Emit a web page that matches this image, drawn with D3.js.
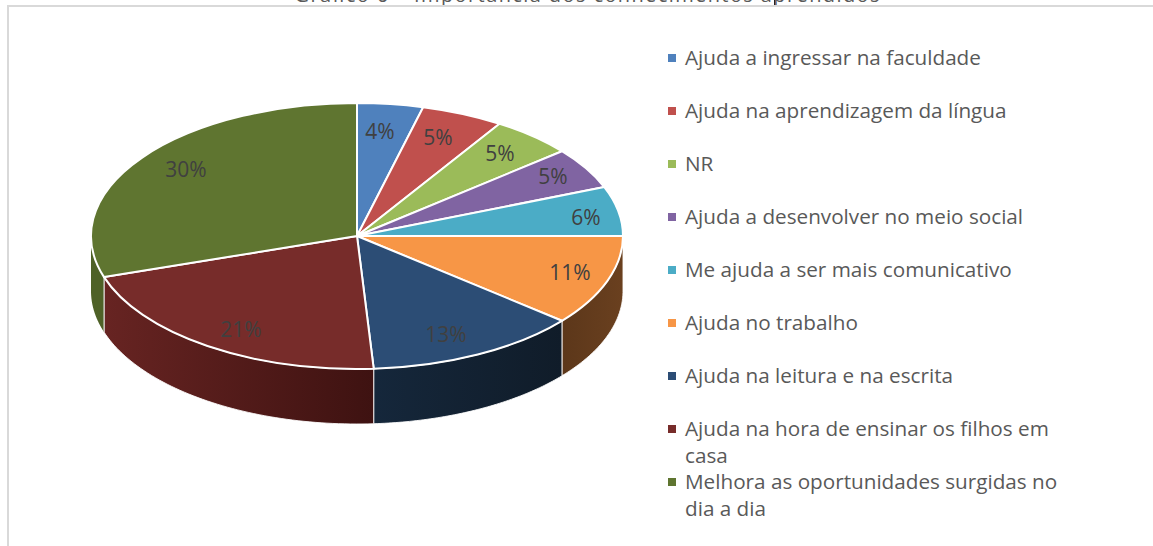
<!DOCTYPE html>
<html><head><meta charset="utf-8">
<script src="https://cdn.jsdelivr.net/npm/d3@7/dist/d3.min.js"></script>
<style>html,body{margin:0;padding:0;background:#fff;overflow:hidden}svg{display:block}</style>
</head><body><svg id="c" width="1153" height="546"></svg>
<script>
const categories = ["Ajuda a ingressar na faculdade","Ajuda na aprendizagem da língua","NR","Ajuda a desenvolver no meio social","Me ajuda a ser mais comunicativo","Ajuda no trabalho","Ajuda na leitura e na escrita","Ajuda na hora de ensinar os filhos em casa","Melhora as oportunidades surgidas no dia a dia"];
const values = [4,5,5,5,6,11,13,21,30];
const colors = ["#4f81bd","#c0504d","#9bbb59","#8064a2","#4bacc6","#f79646","#2c4d75","#772c2a","#5f7530"];
const wallLeft = ["#333","#333","#333","#333","#333","#5c371a","#15273b","#672422","#4e6127"];
const wallRight = ["#333","#333","#333","#333","#333","#6a401f","#101c29","#3e1211","#4e6127"];
const legendLines = [["Ajuda a ingressar na faculdade"],["Ajuda na aprendizagem da língua"],["NR"],["Ajuda a desenvolver no meio social"],["Me ajuda a ser mais comunicativo"],["Ajuda no trabalho"],["Ajuda na leitura e na escrita"],["Ajuda na hora de ensinar os filhos em","casa"],["Melhora as oportunidades surgidas no","dia a dia"]];
const labelPos = [[380,132],[438,138],[500,154],[553,177],[586,218],[570,273],[446,335],[241,330],[186,170]];
const titleText = "Gráfico 6 – Importância dos conhecimentos aprendidos";

const FONT = "'Open Sans', sans-serif";
const svg = d3.select("#c");
const cx = 357, cy = 236, rx = 266, ry = 133, depth = 55;
const defs = svg.append("defs");

// title: the reference crop cuts it at the top edge
svg.append("text")
  .attr("x",587).attr("y",2).attr("text-anchor","middle")
  .attr("font-family",FONT).attr("font-size",20).attr("fill","#595959")
  .attr("textLength",585).text(titleText);
svg.append("path").attr("d","M774.5,0V5").attr("stroke","#222").attr("stroke-width",1);

// chart frame
svg.append("path").attr("d","M8,546V6H1153").attr("fill","none").attr("stroke","#d9d9d9").attr("stroke-width",2);

const slices = d3.pie().value(d=>d).sort(null).startAngle(0).endAngle(2*Math.PI)(values);
const px = a => cx + rx*Math.sin(a), py = a => cy - ry*Math.cos(a);

// walls
const line = d3.line();
slices.forEach((s,i)=>{
  const a0 = Math.max(s.startAngle, Math.PI/2), a1 = Math.min(s.endAngle, 3*Math.PI/2);
  if (a1 <= a0) return;
  const n = 60, pts = d3.range(n+1).map(k=>a0+(a1-a0)*k/n);
  const top = pts.map(a=>[px(a),py(a)]), bot = pts.map(a=>[px(a),py(a)+depth]).reverse();
  const xs = top.map(p=>p[0]);
  const id = "w"+i;
  const g = defs.append("linearGradient").attr("id",id).attr("gradientUnits","userSpaceOnUse")
    .attr("x1",d3.min(xs)).attr("x2",d3.max(xs)).attr("y1",0).attr("y2",0);
  g.append("stop").attr("offset",0).attr("stop-color",wallLeft[i]);
  g.append("stop").attr("offset",1).attr("stop-color",wallRight[i]);
  svg.append("path").attr("d",line(top.concat(bot))+"Z").attr("fill",`url(#${id})`)
    .attr("stroke","#fff").attr("stroke-width",1).attr("stroke-opacity",i===8?0:.85);
  if (i===8) svg.append("path").attr("d",line([top[0],[top[0][0],top[0][1]+depth]])).attr("stroke","#e8e8e8").attr("stroke-width",1);
});

// top surface
const arc = d3.arc().innerRadius(0).outerRadius(rx);
svg.append("g").attr("transform",`translate(${cx},${cy}) scale(1,${ry/rx})`)
  .selectAll("path").data(slices).join("path")
  .attr("d",arc).attr("fill",(d,i)=>colors[i])
  .attr("stroke","#fff").attr("stroke-width",2).attr("stroke-linejoin","round")
  .attr("vector-effect","non-scaling-stroke");

// value labels
svg.append("g").selectAll("text").data(values).join("text")
  .attr("x",(d,i)=>labelPos[i][0]).attr("y",(d,i)=>labelPos[i][1]).attr("dy","0.35em")
  .attr("text-anchor","middle").attr("font-family",FONT).attr("font-size",21).attr("fill","#404040")
  .text(d=>d+"%");

// legend
const rowY = d3.scalePoint().domain(categories).range([58,482]);
const leg = svg.append("g").selectAll("g").data(categories).join("g").attr("transform",d=>`translate(0,${rowY(d)})`);
leg.append("rect").attr("x",668).attr("y",-4).attr("width",8).attr("height",8).attr("fill",(d,i)=>colors[i]);
leg.each(function(d,i){
  const t = d3.select(this).append("text").attr("font-family",FONT).attr("font-size",20.7).attr("fill","#595959");
  legendLines[i].forEach((l,k)=>t.append("tspan").attr("x",685).attr("y",7+k*27).text(l));
});
</script></body></html>
